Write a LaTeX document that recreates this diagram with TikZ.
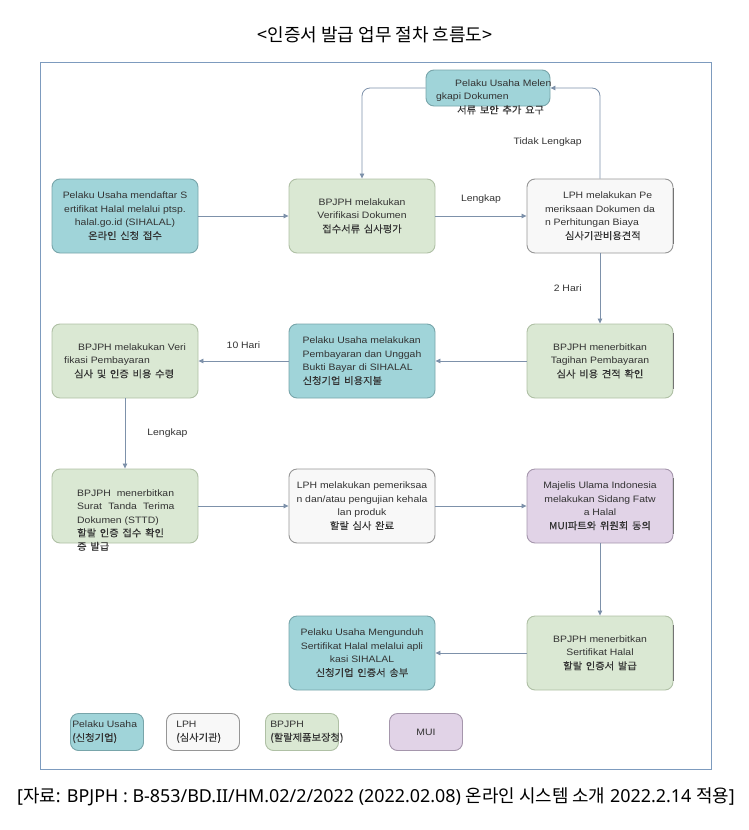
\documentclass[tikz,border=0pt]{standalone}
\usepackage{fontspec}
\setmainfont{Liberation Sans}[FakeStretch=1.12]
\newfontfamily\krfont{Noto Sans CJK KR}
\newfontfamily\latfont{Noto Sans}
\newfontfamily\krbox{Noto Sans CJK KR}[FakeStretch=1.05,WordSpace=1.6,FakeBold=0.25]
\usetikzlibrary{arrows.meta}

\definecolor{pufill}{RGB}{160,212,217}
\definecolor{pudraw}{RGB}{120,165,170}
\definecolor{bpfill}{RGB}{218,232,211}
\definecolor{bpdraw}{RGB}{175,192,165}
\definecolor{lphfill}{RGB}{248,248,248}
\definecolor{lphdraw}{RGB}{150,150,150}
\definecolor{muifill}{RGB}{225,211,231}
\definecolor{muidraw}{RGB}{165,150,172}
\definecolor{linkcol}{RGB}{125,145,170}
\definecolor{framecol}{RGB}{125,155,190}

\newcommand\boxfont{\fontsize{9.3}{13.5}\selectfont}
\newcommand\krtxt[1]{{\krbox\fontsize{9.8}{13.5}\selectfont #1}}

\begin{document}
\begin{tikzpicture}[x=1pt,y=-1pt,
    flowbox/.style={rounded corners=8pt, minimum width=146pt, minimum height=74pt,
      align=center, inner sep=2pt, line width=0.9pt, font=\boxfont, text=black!80},
    pubox/.style={flowbox, draw=pudraw, fill=pufill},
    bpbox/.style={flowbox, draw=bpdraw, fill=bpfill},
    lphbox/.style={flowbox, draw=lphdraw, fill=lphfill},
    muibox/.style={flowbox, draw=muidraw, fill=muifill},
    keybox/.style={minimum width=73pt, minimum height=37pt},
    boxtext/.style={font=\boxfont, text=black!80, inner sep=0pt},
    link/.style={draw=linkcol, line width=0.8pt, rounded corners=8pt,
      -{Triangle[length=5pt,width=4.5pt]}},
    linklabel/.style={font=\boxfont, text=black!80, inner sep=0pt},
    edgeline/.style={draw=black!55, line width=1.4pt}]
  \useasboundingbox (0,0) rectangle (748,830);
  \draw[framecol, line width=1pt] (40,62) rectangle (711,769);

  % title and source
  \node (title) at (375,35) {\krfont\fontsize{18}{21}\selectfont <인증서 발급 업무 절차 흐름도>};
  \node (source) at (376,797) {\latfont\fontsize{17.9}{20}\selectfont [{\krfont 자료}: BPJPH : B-853/BD.II/HM.02/2/2022 (2022.02.08) {\krfont 온라인 시스템 소개} 2022.2.14 {\krfont 적용}]};

  % row 1
  \node[pubox, minimum width=124pt, minimum height=36pt] (fix) at (488,88) {};
  \node[boxtext, align=left, anchor=west] at (436,97) {\hspace*{19pt}Pelaku Usaha Melen\\gkapi Dokumen\\\hspace*{21pt}\krtxt{서류 보안 추가 요구}};
  \node[pubox] (reg) at (125,216) {Pelaku Usaha mendaftar S\\ertifikat Halal melalui ptsp.\\halal.go.id (SIHALAL)\\\krtxt{온라인 신청 접수}};
  \node[bpbox] (verdoc) at (362,216) {BPJPH melakukan\\Verifikasi Dokumen\\\krtxt{접수서류 심사평가}};
  \node[lphbox, align=left] (cost) at (600,216) {\hspace*{18pt}LPH melakukan Pe\\meriksaan Dokumen da\\n Perhitungan Biaya\\\hspace*{20pt}\krtxt{심사기관비용견적}};

  % row 2
  \node[bpbox, align=left] (payver) at (125,361) {\hspace*{14pt}BPJPH melakukan Veri\\fikasi Pembayaran\\\hspace*{10pt}\krtxt{심사 및 인증 비용 수령}};
  \node[pubox, align=left] (pay) at (362,361) {Pelaku Usaha melakukan\\Pembayaran dan Unggah\\Bukti Bayar di SIHALAL\\\krtxt{신청기업 비용지불}};
  \node[bpbox] (bill) at (600,361) {BPJPH menerbitkan\\Tagihan Pembayaran\\\krtxt{심사 비용 견적 확인}};

  % row 3
  \node[bpbox] (sttd) at (125,506) {};
  \node[boxtext, align=left, anchor=west] at (77,520) {BPJPH\hspace{6pt}menerbitkan\\Surat\hspace{3.5pt} Tanda\hspace{3.5pt} Terima\\Dokumen (STTD)\\\krtxt{할랄 인증 접수 확인}\\\krtxt{증 발급}};
  \node[lphbox] (check) at (362,506) {LPH melakukan pemeriksaa\\n dan/atau pengujian kehala\\lan produk\\\krtxt{할랄 심사 완료}};
  \node[muibox] (fatwa) at (600,506) {Majelis Ulama Indonesia\\melakukan Sidang Fatw\\a Halal\\\krtxt{MUI파트와 위원회 동의}};

  % row 4
  \node[pubox] (dl) at (362,653) {Pelaku Usaha Mengunduh\\Sertifikat Halal melalui apli\\kasi SIHALAL\\\krtxt{신청기업 인증서 송부}};
  \node[bpbox] (cert) at (600,653) {BPJPH menerbitkan\\Sertifikat Halal\\\krtxt{할랄 인증서 발급}};

  \foreach \b in {cost,bill,fatwa,cert}
    \draw[edgeline] ([yshift=-9pt]\b.north east) -- ([yshift=9pt]\b.south east);

  % connectors
  \draw[link] (fix.west) -| (verdoc.north);
  \draw[link] (cost.north) |- node[linklabel, pos=0.2, left=18pt] {Tidak Lengkap} (fix.east);
  \draw[link] (reg) -- (verdoc);
  \draw[link] (verdoc) -- node[linklabel, above=12pt] {Lengkap} (cost);
  \draw[link] (cost) -- node[linklabel, left=18pt] {2 Hari} (bill);
  \draw[link] (bill) -- (pay);
  \draw[link] (pay) -- node[linklabel, above=12pt] {10 Hari} (payver);
  \draw[link] (payver) -- node[linklabel, right=22pt] {Lengkap} (sttd);
  \draw[link] (sttd) -- (check);
  \draw[link] (check) -- (fatwa);
  \draw[link] (fatwa) -- (cert);
  \draw[link] (cert) -- (dl);

  % legend
  \node[pubox, keybox] (keypu) at (107,732) {};
  \node[boxtext, align=left, anchor=west] at ([xshift=2pt]keypu.west) {Pelaku Usaha\\\krtxt{(신청기업)}};
  \node[lphbox, keybox] (keylph) at (203,732) {};
  \node[boxtext, align=left, anchor=west] at ([xshift=10pt]keylph.west) {LPH\\\krtxt{(심사기관)}};
  \node[bpbox, keybox] (keybp) at (302,732) {};
  \node[boxtext, align=left, anchor=west] at ([xshift=5pt]keybp.west) {BPJPH\\\krtxt{(할랄제품보장청)}};
  \node[muibox, keybox] (keymui) at (426,732) {MUI};
\end{tikzpicture}
\end{document}
